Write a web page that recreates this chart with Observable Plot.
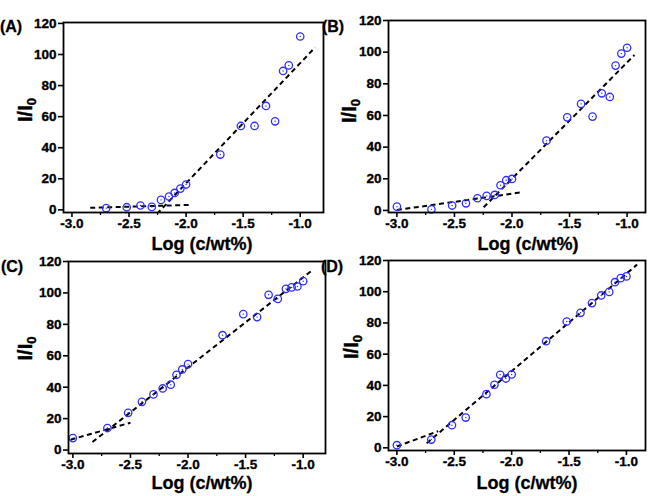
<!DOCTYPE html>
<html><head><meta charset="utf-8">
<script src="https://cdn.jsdelivr.net/npm/d3@7"></script>
<script src="https://cdn.jsdelivr.net/npm/@observablehq/plot@0.6"></script>
<style>
body{margin:0;background:#fff;}
#wrap{position:relative;width:651px;height:496px;overflow:hidden;font-family:"Liberation Sans",Arial,sans-serif;background:#fff;}
#wrap svg{position:absolute;overflow:visible;}
</style></head><body><div id="wrap"></div>
<script>
// Panel data: x = Log(c/wt%), y = I/I0
const xA = [-2.70,-2.52,-2.40,-2.30,-2.22,-2.15,-2.10,-2.05,-2.00,-1.70,-1.52,-1.40,-1.30,-1.22,-1.15,-1.10,-1.00];
const yA = [1.1,1.7,2.8,1.9,6.4,8.6,10.9,13.7,16.3,35.6,54,54,66.9,57,89.4,93,111.6];
const fitA = [[-2.84,1.3,-1.95,3.2],[-2.255,-2.6,-0.869,104.6]];

const xB = [-3.00,-2.70,-2.52,-2.40,-2.30,-2.22,-2.15,-2.10,-2.05,-2.00,-1.70,-1.52,-1.40,-1.30,-1.22,-1.15,-1.10,-1.05,-1.00];
const yB = [2.4,0.7,3.1,4.5,7.7,9.2,9.8,15.9,19.1,19.9,44.1,58.8,67.3,59.3,74.0,71.7,91.5,99.1,102.8];
const fitB = [[-3.0,0.3,-1.93,11.3],[-2.246,2.0,-0.936,98.2]];

const xC = [-3.00,-2.70,-2.52,-2.40,-2.30,-2.22,-2.15,-2.10,-2.05,-2.00,-1.70,-1.52,-1.40,-1.30,-1.22,-1.15,-1.10,-1.05,-1.00];
const yC = [7.6,14.0,23.7,30.7,35.4,39.2,41.6,47.9,51.3,54.7,73.1,86.5,84.6,98.8,96.2,102.6,103.5,104.1,107.5];
const fitC = [[-3.02,6.6,-2.50,17.4],[-2.83,5.1,-0.92,114.5]];

const xD = [-3.00,-2.70,-2.52,-2.40,-2.22,-2.15,-2.10,-2.05,-2.00,-1.70,-1.52,-1.40,-1.30,-1.22,-1.15,-1.10,-1.05,-1.00];
const yD = [1.7,5.3,14.5,19.4,34.4,40.4,46.8,44.4,47.0,68.3,80.9,86.5,92.7,97.6,99.9,106.1,108.7,109.8];
const fitD = [[-3.0,0.85,-2.64,10.7],[-2.74,3.0,-0.907,117.4]];

const xTicks = [-3.0,-2.5,-2.0,-1.5,-1.0];
const xTickLabels = ["-3.0","-2.5","-2.0","-1.5","-1.0"];
const xMinor = [-2.75,-2.25,-1.75,-1.25];
const yTicks = [0,20,40,60,80,100,120];
const yTickLabels = ["0","20","40","60","80","100","120"];
const panelLabels = ["(A)","(B)","(C)","(D)"];
const xTitle = "Log (c/wt%)";

const FONT = "Liberation Sans, Arial, sans-serif";
const BLUE = "#2f2fff";

const panels = [
  {x:xA,y:yA,fits:fitA,label:panelLabels[0],left:0,top:0,width:330,height:248,mL:63,mR:7,mT:22,mB:36,xd:[-3.074,-0.796],yd:[-1.7,120.6],lab:[11,31.5],yl:[32,110],xt:[202,250]},
  {x:xB,y:yB,fits:fitB,label:panelLabels[1],left:320,top:0,width:331,height:248,mL:68,mR:6,mT:20,mB:36,xd:[-3.073,-0.84],yd:[-1.3,120],lab:[13,32],yl:[36,111],xt:[208,250]},
  {x:xC,y:yC,fits:fitC,label:panelLabels[2],left:0,top:240,width:330,height:256,mL:68,mR:5,mT:21,mB:43,xd:[-3.038,-0.806],yd:[-2.2,120],lab:[12,32],yl:[32,108.5],xt:[202,249]},
  {x:xD,y:yD,fits:fitD,label:panelLabels[3],left:320,top:240,width:331,height:256,mL:68,mR:6,mT:20,mB:46,xd:[-3.073,-0.834],yd:[-1.7,120],lab:[12,32],yl:[38,107],xt:[207,249]}
];

const wrap = document.getElementById("wrap");
for (const p of panels) {
  const pts = p.x.map((x,i)=>({x, y:p.y[i]}));
  const fits = p.fits.map(f=>({x1:f[0],y1:f[1],x2:f[2],y2:f[3]}));
  const xl = xTicks.map((v,i)=>({v, t:xTickLabels[i]}));
  const ylab = yTicks.map((v,i)=>({v, t:yTickLabels[i]}));
  const svg = Plot.plot({
    width:p.width, height:p.height,
    marginLeft:p.mL, marginRight:p.mR, marginTop:p.mT, marginBottom:p.mB,
    x:{domain:p.xd, axis:null},
    y:{domain:p.yd, axis:null},
    style:{background:"transparent", overflow:"visible", fontFamily:FONT},
    marks:[
      Plot.link(fits,{x1:"x1",y1:"y1",x2:"x2",y2:"y2",stroke:"black",strokeWidth:2,strokeDasharray:"5,3.5",clip:true}),
      Plot.dot(pts,{x:"x",y:"y",r:3.7,stroke:BLUE,strokeWidth:1.3,fill:"none"}),
      Plot.dot(pts,{x:"x",y:"y",r:0.7,fill:BLUE}),
      Plot.axisX({ticks:xTicks,tickFormat:()=>"",tickSize:5,strokeWidth:1.6,label:null}),
      Plot.axisX({ticks:xMinor,tickFormat:()=>"",tickSize:3,strokeWidth:1.3,label:null}),
      Plot.axisY({ticks:yTicks,tickFormat:()=>"",tickSize:5,strokeWidth:1.6,label:null}),
      Plot.text(xl,{x:"v",text:"t",frameAnchor:"bottom",lineAnchor:"top",dy:6,fontSize:13.5,fontWeight:"bold",fill:"black",stroke:"black",strokeWidth:0.35,fontFamily:FONT}),
      Plot.text(ylab,{y:"v",text:"t",frameAnchor:"left",textAnchor:"end",dx:-7,fontSize:13.5,fontWeight:"bold",fill:"black",stroke:"black",strokeWidth:0.35,fontFamily:FONT}),
      Plot.frame({stroke:"black",strokeWidth:1.8})
    ]
  });
  svg.style.left = p.left+"px";
  svg.style.top = p.top+"px";
  const s = d3.select(svg);
  s.append("text").attr("x",p.lab[0]).attr("y",p.lab[1])
    .attr("font-family",FONT).attr("font-weight","bold").attr("font-size",16).attr("fill","black")
    .attr("stroke","black").attr("stroke-width",0.3).text(p.label);
  const yl = s.append("text").attr("transform",`translate(${p.yl[0]},${p.yl[1]}) rotate(-90)`)
    .attr("text-anchor","middle").attr("font-family",FONT).attr("font-weight","bold").attr("font-size",20).attr("fill","black")
    .attr("stroke","black").attr("stroke-width",0.4);
  yl.append("tspan").text("I/I");
  yl.append("tspan").attr("font-size",13).attr("dy",4).text("0");
  s.append("text").attr("x",p.xt[0]).attr("y",p.xt[1]).attr("text-anchor","middle")
    .attr("font-family",FONT).attr("font-weight","bold").attr("font-size",18).attr("fill","black")
    .attr("stroke","black").attr("stroke-width",0.3).text(xTitle);
  wrap.appendChild(svg);
}
</script>
</body></html>
